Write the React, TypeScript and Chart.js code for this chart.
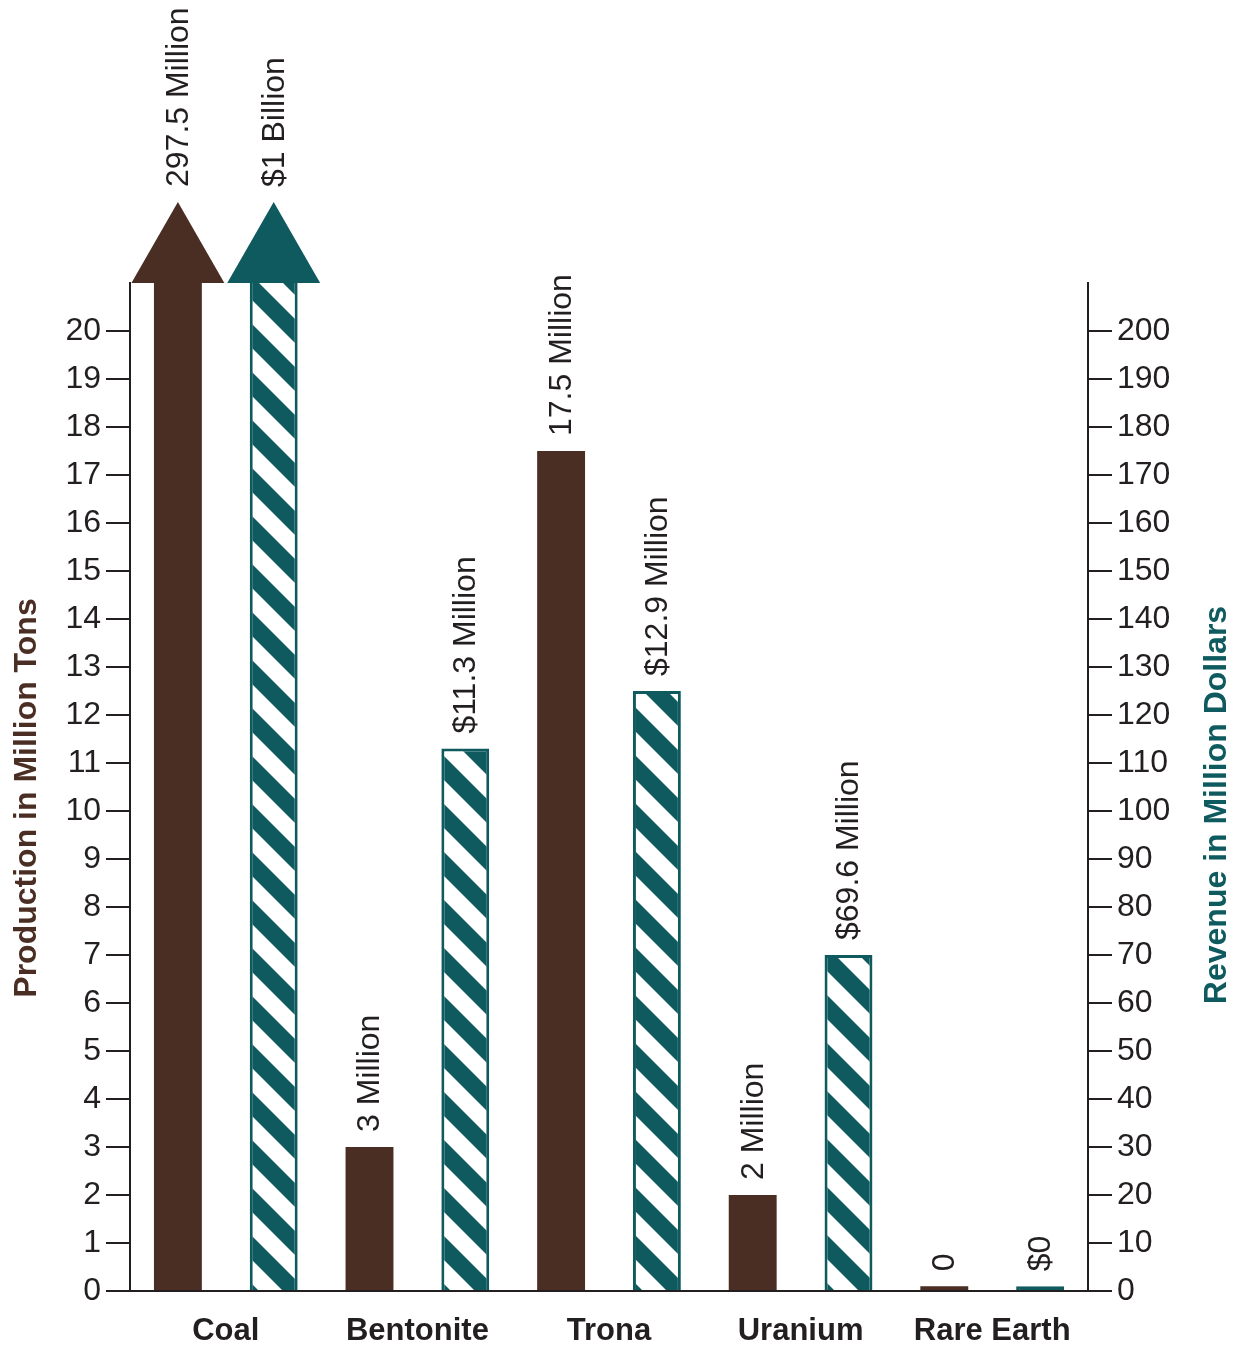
import React, { useEffect, useRef } from "react";
import { Chart, registerables } from "chart.js";

Chart.register(...registerables);

const categories = ["Coal", "Bentonite", "Trona", "Uranium", "Rare Earth"];
const productionMillionTons = [297.5, 3, 17.5, 2, 0.1];
const revenueMillionDollars = [1000, 113, 125, 70, 1.0];
const productionLabels = ["297.5 Million", "3 Million", "17.5 Million", "2 Million", "0"];
const revenueLabels = ["$1 Billion", "$11.3 Million", "$12.9 Million", "$69.6 Million", "$0"];
const leftTitle = "Production in Million Tons";
const rightTitle = "Revenue in Million Dollars";

const BROWN = "#4a2e23";
const TEAL = "#0f5a5f";
const INK = "#231f20";
const FONT = "'Liberation Sans', Arial, Helvetica, sans-serif";

function makeStripePattern(): CanvasPattern | string {
  const size = 48;
  const c = document.createElement("canvas");
  c.width = size;
  c.height = size;
  const g = c.getContext("2d");
  if (!g) return TEAL;
  g.fillStyle = TEAL;
  g.fillRect(0, 0, size, size);
  g.fillStyle = "#ffffff";
  for (const off of [-size, 0, size]) {
    g.beginPath();
    g.moveTo(-size, -size + off);
    g.lineTo(2 * size, 2 * size + off);
    g.lineTo(2 * size, 2 * size + off + size / 2);
    g.lineTo(-size, -size + off + size / 2);
    g.closePath();
    g.fill();
  }
  const p = g.createPattern(c, "repeat");
  return p || TEAL;
}

const overlayPlugin = {
  id: "overlay",
  afterDatasetsDraw(chart: any) {
    const ctx = chart.ctx;
    const area = chart.chartArea;
    const arrowH = 81;
    const labelSets = [productionLabels, revenueLabels];
    const colors = [BROWN, TEAL];
    const scales = [chart.scales.y, chart.scales.y1];
    chart.data.datasets.forEach((ds: any, di: number) => {
      const meta = chart.getDatasetMeta(di);
      meta.data.forEach((el: any, i: number) => {
        const v = ds.data[i];
        let topY = el.y;
        if (v > scales[di].max) {
          const half = el.width * 0.97;
          ctx.save();
          ctx.fillStyle = colors[di];
          ctx.beginPath();
          ctx.moveTo(el.x - half, area.top);
          ctx.lineTo(el.x + half, area.top);
          ctx.lineTo(el.x, area.top - arrowH);
          ctx.closePath();
          ctx.fill();
          ctx.restore();
          topY = area.top - arrowH;
        }
        ctx.save();
        ctx.translate(el.x, topY - 15);
        ctx.rotate(-Math.PI / 2);
        ctx.fillStyle = INK;
        ctx.font = `32px ${FONT}`;
        ctx.textAlign = "left";
        ctx.textBaseline = "middle";
        ctx.fillText(labelSets[di][i], 0, 1);
        ctx.restore();
      });
    });

    const midY = (area.top + area.bottom) / 2;
    const titles: [string, string, number, number][] = [
      [leftTitle, BROWN, 27, midY + 11],
      [rightTitle, TEAL, chart.width - 24, midY + 18],
    ];
    titles.forEach(([t, col, x, y]) => {
      ctx.save();
      ctx.translate(x, y);
      ctx.rotate(-Math.PI / 2);
      ctx.fillStyle = col;
      ctx.font = `bold 32px ${FONT}`;
      ctx.textAlign = "center";
      ctx.textBaseline = "middle";
      ctx.fillText(t, 0, 0);
      ctx.restore();
    });
  },
};

export default function App() {
  const ref = useRef<HTMLCanvasElement | null>(null);

  useEffect(() => {
    if (!ref.current) return;
    const pattern = makeStripePattern();
    const chart = new Chart(ref.current, {
      type: "bar",
      data: {
        labels: categories,
        datasets: [
          {
            label: "Production",
            data: productionMillionTons,
            backgroundColor: BROWN,
            borderWidth: 0,
            yAxisID: "y",
            clip: 0,
          } as any,
          {
            label: "Revenue",
            data: revenueMillionDollars,
            backgroundColor: (c: any) => (c.raw !== undefined && c.raw < 5 ? TEAL : pattern),
            borderColor: TEAL,
            borderWidth: 3,
            yAxisID: "y1",
            clip: 0,
          } as any,
        ],
      },
      options: {
        animation: false,
        responsive: true,
        maintainAspectRatio: false,
        layout: { padding: { top: 283, left: 0, right: 0, bottom: 0 } },
        datasets: { bar: { categoryPercentage: 1, barPercentage: 0.5 } },
        plugins: {
          legend: { display: false },
          tooltip: { enabled: false },
        },
        scales: {
          x: {
            offset: true,
            grid: { display: false },
            border: { display: true, color: INK, width: 2 },
            ticks: {
              color: INK,
              padding: 14,
              font: { family: FONT, size: 31, weight: "bold" },
              maxRotation: 0,
              autoSkip: false,
            },
            afterFit(scale: any) {
              scale.height = 56;
            },
          },
          y: {
            position: "left",
            min: 0,
            max: 21,
            grid: { drawOnChartArea: false, drawTicks: true, tickLength: 24, color: INK, lineWidth: 2 },
            border: { display: true, color: INK, width: 2 },
            ticks: {
              stepSize: 1,
              color: INK,
              padding: 5,
              font: { family: FONT, size: 32 },
            },
            afterBuildTicks(scale: any) {
              scale.ticks = scale.ticks.filter((t: any) => t.value <= 20);
            },
            afterFit(scale: any) {
              scale.width = 130;
            },
          },
          y1: {
            position: "right",
            min: 0,
            max: 210,
            grid: { drawOnChartArea: false, drawTicks: true, tickLength: 24, color: INK, lineWidth: 2 },
            border: { display: true, color: INK, width: 2 },
            ticks: {
              stepSize: 10,
              color: INK,
              padding: 5,
              font: { family: FONT, size: 32 },
            },
            afterBuildTicks(scale: any) {
              scale.ticks = scale.ticks.filter((t: any) => t.value <= 200);
            },
            afterFit(scale: any) {
              scale.width = 153;
            },
          },
        },
      } as any,
      plugins: [overlayPlugin],
    });
    return () => chart.destroy();
  }, []);

  return (
    <div style={{ position: "absolute", left: 0, top: 0, width: 1241, height: 1347, background: "#fff" }}>
      <canvas ref={ref} />
    </div>
  );
}
